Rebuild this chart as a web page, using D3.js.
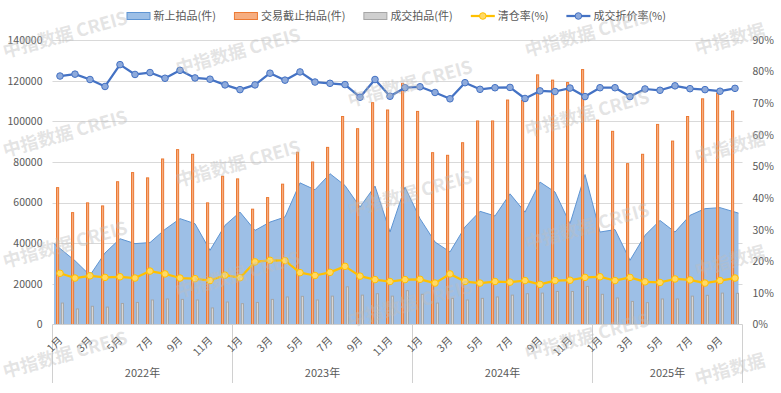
<!DOCTYPE html>
<html><head><meta charset="utf-8">
<script src="https://cdn.jsdelivr.net/npm/d3@7"></script>
<style>
body{margin:0;background:#fff}
svg{display:block}
text{font-family:"Noto Sans CJK SC","Noto Sans",sans-serif}
</style>
</head><body>
<svg id="chart" width="781" height="393"></svg>
<script>
// ---------- data ----------
const yearLabels = ["2022年","2023年","2024年","2025年"];
const monthsPerYear = [12,12,12,10];
const seriesNames = ["新上拍品(件)","交易截止拍品(件)","成交拍品(件)","清仓率(%)","成交折价率(%)"];
const leftTicks = [0,20000,40000,60000,80000,100000,120000,140000];
const rightTicks = [0,10,20,30,40,50,60,70,80,90];

const newListed = [39800,31400,24200,35200,42200,39800,40300,46800,52100,49600,36500,48800,
  55300,46300,50400,52900,69700,66300,74200,68400,57800,68100,45500,67600,
  52100,40600,35700,48000,55700,53400,64300,55300,70100,65200,49600,73800,
  45500,46700,31600,43900,51200,45500,53700,57000,57500,54800];
const auctionEnd = [67600,55300,60100,58600,70500,75000,72400,81700,86300,84000,60100,73200,
  71900,57000,62700,69300,85000,80200,87400,102600,96600,109400,105800,118900,
  105100,84800,83500,89700,100400,100400,110700,110500,123100,120500,119300,125700,
  100800,95300,79400,84000,98700,90500,102600,111300,114100,105300];
const deals = [10800,7900,9200,8800,10600,11100,12300,12800,12600,12300,8400,11300,
  10500,11100,12600,13800,14100,12300,14200,18800,14700,15400,14200,16900,
  15100,10800,13100,12300,13100,13800,14700,15400,15700,16500,16500,19000,
  15100,13300,11600,11000,12800,12800,14200,14600,15700,15600];
const clearanceRate = [16.2,14.7,15.4,14.9,15.1,14.7,16.9,16.0,14.7,14.5,13.9,15.6,
  14.8,19.8,20.3,20.2,16.4,15.5,16.5,18.4,15.3,14.2,13.6,14.2,
  14.3,13.1,16.0,13.6,13.1,13.6,13.4,13.9,12.7,13.9,14.0,14.9,
  15.1,13.9,14.9,13.5,13.3,14.4,14.1,13.1,13.9,14.7];
const discountRate = [78.6,79.2,77.5,75.3,82.2,79.1,79.7,77.9,80.4,78.0,77.6,75.8,
  74.3,75.8,79.5,77.3,79.9,76.7,76.3,75.9,71.9,77.5,72.2,74.9,
  75.2,73.4,71.4,76.5,74.4,74.9,75.0,71.5,73.9,73.7,74.8,72.1,
  74.9,74.9,72.1,74.5,74.1,75.5,74.6,74.3,73.8,74.7];

// categories built from years/months
const categories = [];
yearLabels.forEach((y,yi)=>{ for(let m=1;m<=monthsPerYear[yi];m++) categories.push({key:y+m+"月", year:y, month:m, label:m+"月"}); });
const data = categories.map((c,i)=>({cat:c.key, month:c.month, label:c.label, year:c.year,
  nl:newListed[i], ae:auctionEnd[i], dl:deals[i], cr:clearanceRate[i], dr:discountRate[i]}));

// ---------- layout ----------
const svg = d3.select("#chart");
const L = 52.5, R = 742.5, T = 40, B = 324.5;
const x = d3.scaleBand().domain(data.map(d=>d.cat)).range([L,R]).padding(0);
const xs = d3.scaleBand().domain(["ae","dl"]).range([3.5,11.5]).paddingInner(0.35);
const yL = d3.scaleLinear().domain([0,140000]).range([B,T]);
const yR = d3.scaleLinear().domain([0,90]).range([B,T]);
const cx = d => x(d.cat) + x.bandwidth()/2;
const textColor = "#595959";

// gridlines
svg.append("g").selectAll("line").data(leftTicks.filter(t=>t>0)).join("line")
  .attr("x1",L).attr("x2",R).attr("y1",d=>Math.round(yL(d))+0.5).attr("y2",d=>Math.round(yL(d))+0.5)
  .attr("stroke","#d9d9d9").attr("stroke-width",1);

// left axis
const axL = svg.append("g").attr("transform",`translate(${L},0)`)
  .call(d3.axisLeft(yL).tickValues(leftTicks).tickSize(0).tickPadding(10).tickFormat(d3.format("d")));
axL.select(".domain").remove();
axL.selectAll("text").attr("fill",textColor).style("font-size","10.5px");

// right axis
const axR = svg.append("g").attr("transform",`translate(${R},0)`)
  .call(d3.axisRight(yR).tickValues(rightTicks).tickSize(0).tickPadding(10).tickFormat(d=>d+"%"));
axR.select(".domain").remove();
axR.selectAll("text").attr("fill",textColor).style("font-size","10.5px");

// area (新上拍品)
const n = data.length;
const ax = (d,i) => i===0 ? x(d.cat)+1.5 : (i===n-1 ? cx(d)+3.5 : cx(d));
const areaGen = d3.area().x(ax).y0(B).y1(d=>yL(d.nl));
svg.append("path").datum(data).attr("d",areaGen).attr("fill","#9dbfe6");
svg.append("path").datum(data).attr("d",d3.line().x(ax).y(d=>yL(d.nl)))
  .attr("fill","none").attr("stroke","#5f95d3").attr("stroke-width",1);

// bars
const bars = svg.append("g");
bars.selectAll("rect.ae").data(data).join("rect").attr("class","ae")
  .attr("x",d=>x(d.cat)+xs("ae")+0.5).attr("width",xs.bandwidth()-1)
  .attr("y",d=>yL(d.ae)+0.5).attr("height",d=>B-yL(d.ae)-0.5)
  .attr("fill","#f6ad80").attr("stroke","#ec7a34").attr("stroke-width",1);
bars.selectAll("rect.dl").data(data).join("rect").attr("class","dl")
  .attr("x",d=>x(d.cat)+xs("dl")+0.5).attr("width",xs.bandwidth()-1)
  .attr("y",d=>yL(d.dl)+0.5).attr("height",d=>B-yL(d.dl)-0.5)
  .attr("fill","#d6d6d6").attr("stroke","#a6a6a6").attr("stroke-width",1);

// x axis line & separators
svg.append("line").attr("x1",L).attr("x2",R).attr("y1",B).attr("y2",B).attr("stroke","#d0d0d0");
let acc = 0;
const seps = [0];
monthsPerYear.forEach(m=>{acc+=m; seps.push(acc);});
svg.append("g").selectAll("line").data(seps).join("line")
  .attr("x1",i=> i<n ? x(data[i].cat) : R).attr("x2",i=> i<n ? x(data[i].cat) : R)
  .attr("y1",B).attr("y2",383).attr("stroke","#d0d0d0");
// year labels
svg.append("g").selectAll("text").data(yearLabels).join("text")
  .attr("x",(y,i)=>{const a=seps[i], b=seps[i+1]; const xa=x(data[a].cat); const xb = b<n ? x(data[b].cat) : R; return (xa+xb)/2;})
  .attr("y",377).attr("text-anchor","middle").attr("fill",textColor).style("font-size","11px").text(d=>d);
// month labels
svg.append("g").selectAll("text").data(data.filter(d=>d.month%2===1)).join("text")
  .attr("transform",d=>`translate(${cx(d)+0.5},338.5) rotate(-45)`)
  .attr("text-anchor","end").attr("dy","0.35em").attr("fill",textColor).style("font-size","10.5px")
  .text(d=>d.label);

// lines
function drawLine(key, stroke, fill){
  const g = svg.append("g");
  g.append("path").datum(data).attr("d",d3.line().x(cx).y(d=>yR(d[key])))
    .attr("fill","none").attr("stroke",stroke).attr("stroke-width",2.25).attr("stroke-linejoin","round");
  g.selectAll("circle").data(data).join("circle").attr("cx",cx).attr("cy",d=>yR(d[key]))
    .attr("r",3.3).attr("fill",fill).attr("stroke",stroke).attr("stroke-width",1);
}
drawLine("cr","#ffc000","#ffd966");
drawLine("dr","#4472c4","#8eaadb");

// legend
const lg = svg.append("g");
let lx = 126.5; const ly = 16;
seriesNames.forEach((name,i)=>{
  if(i===0) lg.append("rect").attr("x",lx+0.5).attr("y",ly-3.5).attr("width",23).attr("height",7).attr("fill","#9dbfe6").attr("stroke","#5f95d3");
  if(i===1) lg.append("rect").attr("x",lx+0.5).attr("y",ly-3.5).attr("width",23).attr("height",7).attr("fill","#f6ad80").attr("stroke","#ec7a34");
  if(i===2) lg.append("rect").attr("x",lx+0.5).attr("y",ly-3.5).attr("width",23).attr("height",7).attr("fill","#cfcfcf").attr("stroke","#a6a6a6");
  if(i===3||i===4){
    const st = i===3?"#ffc000":"#4472c4", fl = i===3?"#ffd966":"#8eaadb";
    lg.append("line").attr("x1",lx).attr("x2",lx+24).attr("y1",ly).attr("y2",ly).attr("stroke",st).attr("stroke-width",2.25);
    lg.append("circle").attr("cx",lx+12).attr("cy",ly).attr("r",3.3).attr("fill",fl).attr("stroke",st);
  }
  const t = lg.append("text").attr("x",lx+27).attr("y",ly).attr("dy","0.36em").attr("fill",textColor)
    .style("font-size","11px").text(name);
  lx += 27 + t.node().getComputedTextLength() + 18;
});

// watermarks (faint, kept inside the canvas)
const wmFull = [[5,58],[5,157],[5,268],[5,378],[178,75],[178,187],[178,298],
  [350,107],[350,217],[350,327],[527,57],[527,137],[527,250],[527,360]];
const wmShort = [[697,55],[697,163],[697,277],[697,385]];
const wm = svg.append("g");
wm.selectAll("text.f").data(wmFull).join("text").attr("class","f")
  .attr("transform",d=>`translate(${d[0]},${d[1]}) rotate(-15.6)`)
  .attr("fill","#bdbdbd").attr("fill-opacity",0.42).style("font-size","18px").style("font-weight","bold")
  .text("中指数据 CREIS");
wm.selectAll("text.s").data(wmShort).join("text").attr("class","s")
  .attr("transform",d=>`translate(${d[0]},${d[1]}) rotate(-15.6)`)
  .attr("fill","#bdbdbd").attr("fill-opacity",0.42).style("font-size","18px").style("font-weight","bold")
  .text("中指数据");
</script>
</body></html>
